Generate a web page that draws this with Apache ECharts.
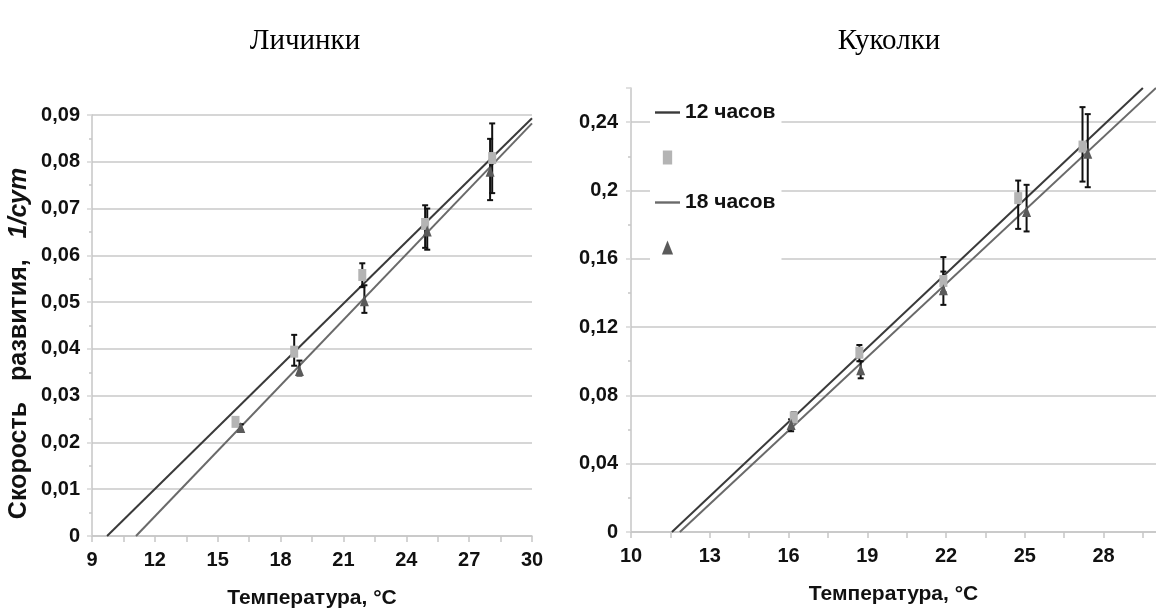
<!DOCTYPE html>
<html>
<head>
<meta charset="utf-8">
<script src="https://cdn.jsdelivr.net/npm/echarts@6/dist/echarts.min.js"></script>
<style>html,body{margin:0;padding:0;background:#fff}#c{width:1156px;height:615px}</style>
</head>
<body>
<div id="c"></div>
<script>
// ---------- data ----------
// Личинки (larvae)
const larvaeTemp12 = [15.85, 18.65, 21.9, 24.9, 28.1];
const larvaeRate12 = [0.0244, 0.0394, 0.0558, 0.0667, 0.0808];
const larvaeErrLow12 = [0.0237, 0.0364, 0.0532, 0.0616, 0.0733];
const larvaeErrHigh12 = [0.0251, 0.0430, 0.0583, 0.0707, 0.0882];
const larvaeTemp18 = [16.1, 18.9, 22.0, 25.0, 28.0];
const larvaeRate18 = [0.0232, 0.0354, 0.0503, 0.0652, 0.0780];
const larvaeErrLow18 = [0.0226, 0.0343, 0.0477, 0.0612, 0.0718];
const larvaeErrHigh18 = [0.0239, 0.0375, 0.0536, 0.0700, 0.0849];
const larvaeTrend12X = [9.72, 30];
const larvaeTrend12Y = [0, 0.0893];
const larvaeTrend18X = [11.1, 30];
const larvaeTrend18Y = [0, 0.0882];

// Куколки (pupae)
const pupaeTemp12 = [16.2, 18.7, 21.9, 24.75, 27.2];
const pupaeRate12 = [0.067, 0.105, 0.147, 0.1955, 0.2257];
const pupaeErrLow12 = [0.064, 0.100, 0.1405, 0.1775, 0.2052];
const pupaeErrHigh12 = [0.070, 0.1095, 0.161, 0.2058, 0.2488];
const pupaeTemp18 = [16.1, 18.75, 21.9, 25.07, 27.4];
const pupaeRate18 = [0.063, 0.095, 0.1418, 0.1877, 0.2218];
const pupaeErrLow18 = [0.059, 0.090, 0.133, 0.176, 0.2019];
const pupaeErrHigh18 = [0.066, 0.100, 0.1525, 0.2033, 0.2447];
const pupaeTrend12X = [11.56, 29.5];
const pupaeTrend12Y = [0, 0.26];
const pupaeTrend18X = [11.86, 30];
const pupaeTrend18Y = [0, 0.26];

// axis tick values
const pupaeXLabels = [10, 13, 16, 19, 22, 25, 28];
const pupaeXTicks = [10, 11.5, 13, 14.5, 16, 17.5, 19, 20.5, 22, 23.5, 25, 26.5, 28, 29.5];

const seriesNames = ['12 часов', '18 часов'];
const chartTitles = ['Личинки', 'Куколки'];
const xTitle = 'Температура, °C';

// ---------- styling ----------
const SANS = '"Liberation Sans Narrow","Liberation Sans",Arial,sans-serif';
const SERIF = '"Liberation Serif","Times New Roman",serif';
const GRID_C = '#d6d6d6';
const AXIS_C = '#c6c6c6';
const LINE12 = '#3a3a3a';
const LINE18 = '#6a6a6a';
const SQ_C = '#b4b4b4';
const TRI_C = '#5a5a5a';
const labelStyle = {fontFamily: SANS, fontWeight: 'bold', fontSize: 20, color: '#111'};
const xNameStyle = {fontFamily: SANS, fontWeight: 'bold', fontSize: 21, color: '#111'};

const fmt = v => String(Math.round(v * 100) / 100).replace('.', ',');
const zip2 = (a, b) => a.map((x, i) => [x, b[i]]);
const zip3 = (a, b, c) => a.map((x, i) => [x, b[i], c[i]]);

function errRender(params, api) {
  const x = api.value(0), lo = api.value(1), hi = api.value(2);
  const pHi = api.coord([x, hi]), pLo = api.coord([x, lo]);
  const w = 3;
  const style = {stroke: '#111', lineWidth: 2};
  return {type: 'group', children: [
    {type: 'line', shape: {x1: pHi[0], y1: pHi[1], x2: pLo[0], y2: pLo[1]}, style},
    {type: 'line', shape: {x1: pHi[0] - w, y1: pHi[1], x2: pHi[0] + w, y2: pHi[1]}, style},
    {type: 'line', shape: {x1: pLo[0] - w, y1: pLo[1], x2: pLo[0] + w, y2: pLo[1]}, style}
  ]};
}

function lineSeries(name, xi, data, color) {
  return {name, type: 'line', xAxisIndex: xi, yAxisIndex: xi, data, symbol: 'none',
    lineStyle: {color, width: 2}, itemStyle: {color}, z: 2, silent: true, clip: true};
}
function errSeries(xi, data) {
  return {type: 'custom', xAxisIndex: xi, yAxisIndex: xi, data, renderItem: errRender,
    encode: {x: 0, y: [1, 2]}, z: 3, silent: true};
}
function markSeries(name, xi, data, shape) {
  const sq = shape === 'rect';
  return {name, type: 'scatter', xAxisIndex: xi, yAxisIndex: xi, data,
    symbol: sq ? 'rect' : 'triangle', symbolSize: sq ? [8, 12] : [9, 11],
    itemStyle: {color: sq ? SQ_C : TRI_C, opacity: 1}, z: 4, silent: true};
}

const chart = echarts.init(document.getElementById('c'), null, {renderer: 'canvas'});

const lineIcon = 'path://M0,0h25v2.4h-25z';
const sqIcon = 'path://M0,0h8v12h-8z';
const triIcon = 'path://M4,0L8,10L0,10z';

const option = {
  backgroundColor: '#fff',
  animation: false,
  title: [
    {text: chartTitles[0], left: 300, top: 22, textAlign: 'center',
     textStyle: {fontFamily: SERIF, fontWeight: 'normal', fontSize: 29, color: '#000'}},
    {text: chartTitles[1], left: 884, top: 22, textAlign: 'center',
     textStyle: {fontFamily: SERIF, fontWeight: 'normal', fontSize: 29, color: '#000'}}
  ],
  legend: {
    orient: 'vertical', left: 650, top: 98, padding: [4, 6, 4, 5],
    backgroundColor: '#fff', itemWidth: 25, itemHeight: 14, itemGap: 24,
    symbolKeepAspect: true, selectedMode: false,
    textStyle: Object.assign({}, labelStyle, {fontSize: 21, lineHeight: 14}),
    data: [
      {name: seriesNames[0], icon: lineIcon, itemStyle: {color: LINE12}},
      {name: '\u200b', icon: sqIcon, itemStyle: {color: SQ_C}},
      {name: seriesNames[1], icon: lineIcon, itemStyle: {color: LINE18}},
      {name: '\u200b\u200b', icon: triIcon, itemStyle: {color: TRI_C}}
    ]
  },
  grid: [
    {left: 92, top: 115, width: 440, height: 421},
    {left: 631, top: 88, width: 529, height: 444}
  ],
  xAxis: [
    {gridIndex: 0, type: 'value', min: 9, max: 30, interval: 3,
     axisLine: {show: true, lineStyle: {color: AXIS_C, width: 1.5}},
     axisTick: {show: true, length: 6, lineStyle: {color: AXIS_C, width: 1.5}},
     minorTick: {show: true, splitNumber: 2, length: 6, lineStyle: {color: AXIS_C, width: 1.5}},
     splitLine: {show: false},
     axisLabel: Object.assign({margin: 14}, labelStyle),
     name: xTitle, nameLocation: 'middle', nameGap: 52, nameTextStyle: xNameStyle},
    {gridIndex: 1, type: 'value', min: 10, max: 30,
     axisLine: {show: true, lineStyle: {color: AXIS_C, width: 1.5}},
     axisTick: {show: true, length: 6, customValues: pupaeXTicks, lineStyle: {color: AXIS_C, width: 1.5}},
     splitLine: {show: false},
     axisLabel: Object.assign({margin: 14, customValues: pupaeXLabels}, labelStyle),
     name: xTitle, nameLocation: 'middle', nameGap: 52, nameTextStyle: xNameStyle}
  ],
  yAxis: [
    {gridIndex: 0, type: 'value', min: 0, max: 0.09, interval: 0.01,
     axisLine: {show: true, lineStyle: {color: AXIS_C, width: 1.5}},
     axisTick: {show: true, length: 5, lineStyle: {color: GRID_C, width: 1.5}},
     minorTick: {show: true, splitNumber: 2, length: 3, lineStyle: {color: AXIS_C, width: 1.5}},
     splitLine: {show: true, lineStyle: {color: GRID_C, width: 2}},
     axisLabel: Object.assign({margin: 12, formatter: fmt}, labelStyle),
     name: '{a|Скорость   развития,   }{b|1/сут}', nameLocation: 'middle', nameGap: 60, nameRotate: 90,
     nameTextStyle: {padding: [0, 36, 0, 0], rich: {
       a: {fontFamily: '"Liberation Sans",Arial,sans-serif', fontWeight: 'bold', fontSize: 25, color: '#111'},
       b: {fontFamily: '"Liberation Sans",Arial,sans-serif', fontWeight: 'bold', fontStyle: 'italic', fontSize: 25, color: '#111'}
     }}},
    {gridIndex: 1, type: 'value', min: 0, max: 0.26, interval: 0.04,
     axisLine: {show: true, lineStyle: {color: AXIS_C, width: 1.5}},
     axisTick: {show: true, length: 5, lineStyle: {color: GRID_C, width: 1.5}},
     minorTick: {show: true, splitNumber: 2, length: 3, lineStyle: {color: AXIS_C, width: 1.5}},
     splitLine: {show: true, showMaxLine: false, lineStyle: {color: GRID_C, width: 2}},
     axisLabel: Object.assign({margin: 13, formatter: fmt, showMaxLabel: false}, labelStyle)}
  ],
  series: [
    // larvae
    lineSeries('Личинки 12', 0, zip2(larvaeTrend12X, larvaeTrend12Y), LINE12),
    lineSeries('Личинки 18', 0, zip2(larvaeTrend18X, larvaeTrend18Y), LINE18),
    errSeries(0, zip3(larvaeTemp12, larvaeErrLow12, larvaeErrHigh12)),
    errSeries(0, zip3(larvaeTemp18, larvaeErrLow18, larvaeErrHigh18)),
    markSeries('Личинки 12 т', 0, zip2(larvaeTemp12, larvaeRate12), 'rect'),
    markSeries('Личинки 18 т', 0, zip2(larvaeTemp18, larvaeRate18), 'triangle'),
    // pupae
    lineSeries(seriesNames[0], 1, zip2(pupaeTrend12X, pupaeTrend12Y), LINE12),
    lineSeries(seriesNames[1], 1, zip2(pupaeTrend18X, pupaeTrend18Y), LINE18),
    errSeries(1, zip3(pupaeTemp12, pupaeErrLow12, pupaeErrHigh12)),
    errSeries(1, zip3(pupaeTemp18, pupaeErrLow18, pupaeErrHigh18)),
    markSeries('\u200b', 1, zip2(pupaeTemp12, pupaeRate12), 'rect'),
    markSeries('\u200b\u200b', 1, zip2(pupaeTemp18, pupaeRate18), 'triangle')
  ]
};
chart.setOption(option);
</script>
</body>
</html>
